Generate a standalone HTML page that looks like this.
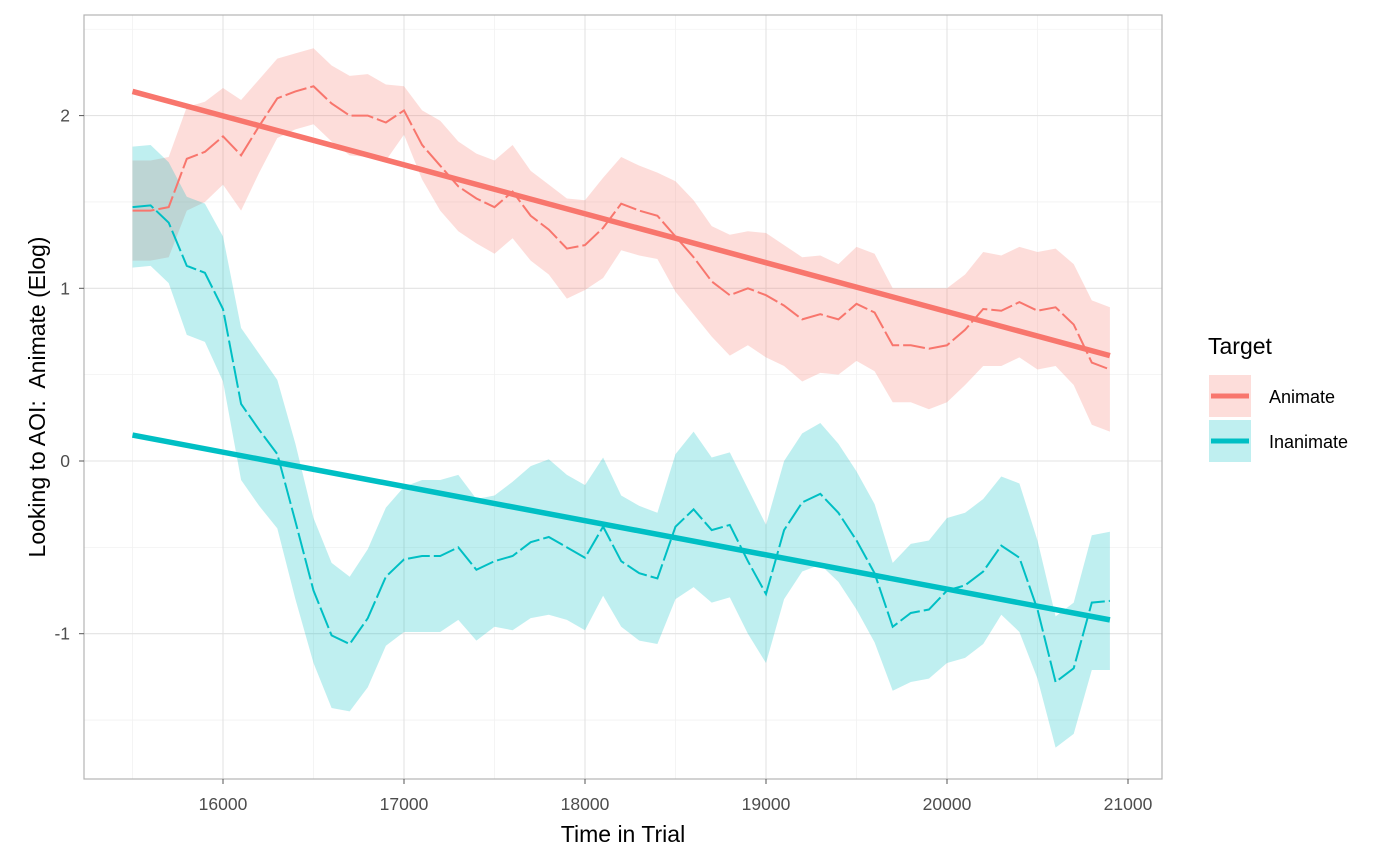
<!DOCTYPE html>
<html><head><meta charset="utf-8">
<style>
body{margin:0;background:#fff;font-family:"Liberation Sans",sans-serif;}
svg{display:block}
</style></head>
<body>
<svg id="chart" width="1400" height="865" xmlns="http://www.w3.org/2000/svg">
<rect width="1400" height="865" fill="#fff"/>
<g id="grid"></g>
<g id="marks"></g>
<rect x="84" y="15" width="1078" height="764" fill="none" stroke="#b3b3b3" stroke-width="1.2"/>
<g id="axes"></g>
<text x="623" y="842" text-anchor="middle" font-size="23" fill="#000">Time in Trial</text>
<text transform="translate(45,397) rotate(-90)" text-anchor="middle" font-size="23" fill="#000" xml:space="preserve">Looking to AOI:  Animate (Elog)</text>
<g>
<text x="1208" y="354" font-size="23" fill="#000">Target</text>
<g>
<rect x="1209" y="375" width="42" height="42" fill="#f8766d" fill-opacity="0.25"/>
<line x1="1211" y1="396" x2="1249" y2="396" stroke="#f8766d" stroke-width="5"/>
<text x="1269" y="403" font-size="18" fill="#000">Animate</text></g>
<g>
<rect x="1209" y="420" width="42" height="42" fill="#00bfc4" fill-opacity="0.25"/>
<line x1="1211" y1="441" x2="1249" y2="441" stroke="#00bfc4" stroke-width="5"/>
<text x="1269" y="448" font-size="18" fill="#000">Inanimate</text></g>
</g>
</svg>
<script>
const times=[];for(let t=15500;t<=20900;t+=100)times.push(t);
const animateMean=[1.45,1.45,1.47,1.75,1.79,1.88,1.77,1.94,2.10,2.14,2.17,2.07,2.00,2.00,1.96,2.03,1.83,1.71,1.59,1.52,1.47,1.56,1.42,1.34,1.23,1.25,1.35,1.49,1.45,1.42,1.30,1.18,1.04,0.96,1.00,0.96,0.90,0.82,0.85,0.82,0.91,0.86,0.67,0.67,0.65,0.67,0.76,0.88,0.87,0.92,0.87,0.89,0.79,0.57,0.53];
const animateSE=[0.29,0.29,0.29,0.30,0.29,0.28,0.32,0.27,0.23,0.22,0.22,0.22,0.23,0.24,0.22,0.14,0.2,0.26,0.26,0.26,0.27,0.27,0.26,0.26,0.29,0.26,0.29,0.27,0.26,0.25,0.32,0.33,0.32,0.35,0.33,0.36,0.35,0.36,0.34,0.32,0.33,0.34,0.33,0.33,0.35,0.33,0.32,0.33,0.32,0.32,0.34,0.34,0.35,0.36,0.36];
const inanimateMean=[1.47,1.48,1.38,1.13,1.09,0.88,0.33,0.18,0.04,-0.35,-0.75,-1.01,-1.06,-0.91,-0.67,-0.57,-0.55,-0.55,-0.50,-0.63,-0.58,-0.55,-0.47,-0.44,-0.50,-0.56,-0.38,-0.58,-0.65,-0.68,-0.38,-0.28,-0.40,-0.37,-0.58,-0.77,-0.40,-0.24,-0.19,-0.30,-0.46,-0.65,-0.96,-0.88,-0.86,-0.75,-0.72,-0.64,-0.49,-0.56,-0.86,-1.28,-1.20,-0.82,-0.81];
const inanimateSE=[0.35,0.35,0.35,0.40,0.40,0.42,0.44,0.44,0.43,0.45,0.42,0.42,0.39,0.40,0.40,0.42,0.44,0.44,0.42,0.41,0.38,0.43,0.44,0.45,0.42,0.42,0.40,0.38,0.39,0.38,0.42,0.45,0.42,0.42,0.42,0.40,0.40,0.40,0.41,0.40,0.40,0.40,0.37,0.40,0.40,0.42,0.42,0.42,0.40,0.43,0.40,0.38,0.38,0.39,0.40];
const trendX=[15500,20900];
const animateTrend=[2.14,0.61];
const inanimateTrend=[0.15,-0.92];
const xTicks=[16000,17000,18000,19000,20000,21000];
const xMinor=[15500,16500,17500,18500,19500,20500];
const yTicks=[-1,0,1,2];
const yMinor=[-1.5,-0.5,0.5,1.5,2.5];
const X=t=>223+(t-16000)*0.181;
const Y=v=>461-v*172.7;
const NS="http://www.w3.org/2000/svg";
function mk(parent,tag,attrs){const e=document.createElementNS(NS,tag);for(const k in attrs)e.setAttribute(k,attrs[k]);document.getElementById(parent).appendChild(e);return e;}
xMinor.forEach(t=>{const e=mk('grid','line',{x1:X(t),x2:X(t),y1:15,y2:779,stroke:'#f2f2f2','stroke-width':0.8});

});
yMinor.forEach(v=>{const e=mk('grid','line',{x1:84,x2:1162,y1:Y(v),y2:Y(v),stroke:'#f2f2f2','stroke-width':0.8});

});
xTicks.forEach(t=>{const e=mk('grid','line',{x1:X(t),x2:X(t),y1:15,y2:779,stroke:'#e3e3e3','stroke-width':1.1});


const k=mk('axes','line',{x1:X(t),x2:X(t),y1:779,y2:784,stroke:'#555','stroke-width':1});


const l=mk('axes','text',{x:X(t),y:810,'text-anchor':'middle','font-size':17.5,fill:'#4d4d4d'});l.textContent=t;

});
yTicks.forEach(v=>{const e=mk('grid','line',{x1:84,x2:1162,y1:Y(v),y2:Y(v),stroke:'#e3e3e3','stroke-width':1.1});


const k=mk('axes','line',{x1:79,x2:84,y1:Y(v),y2:Y(v),stroke:'#555','stroke-width':1});


const l=mk('axes','text',{x:70,y:Y(v)+6,'text-anchor':'end','font-size':17.5,fill:'#4d4d4d'});l.textContent=v;

});
function ribbon(mean,se,col,name){let up=times.map((t,i)=>X(t)+','+Y(mean[i]+se[i]));let dn=times.map((t,i)=>X(t)+','+Y(mean[i]-se[i])).reverse();
const p=mk('marks','polygon',{points:up.concat(dn).join(' '),fill:col,'fill-opacity':0.25});

}
function line(mean,col,name){const p=mk('marks','polyline',{points:times.map((t,i)=>X(t)+','+Y(mean[i])).join(' '),fill:'none',stroke:col,'stroke-width':2,'stroke-dasharray':'22 4'});

}
function trend(vals,col,name){const p=mk('marks','line',{x1:X(trendX[0]),y1:Y(vals[0]),x2:X(trendX[1]),y2:Y(vals[1]),stroke:col,'stroke-width':5.5});

}
ribbon(animateMean,animateSE,'#f8766d','animate-ribbon');
ribbon(inanimateMean,inanimateSE,'#00bfc4','inanimate-ribbon');
line(animateMean,'#f8766d','animate-line');
line(inanimateMean,'#00bfc4','inanimate-line');
trend(animateTrend,'#f8766d','animate-trend');
trend(inanimateTrend,'#00bfc4','inanimate-trend');
</script>
</body></html>
